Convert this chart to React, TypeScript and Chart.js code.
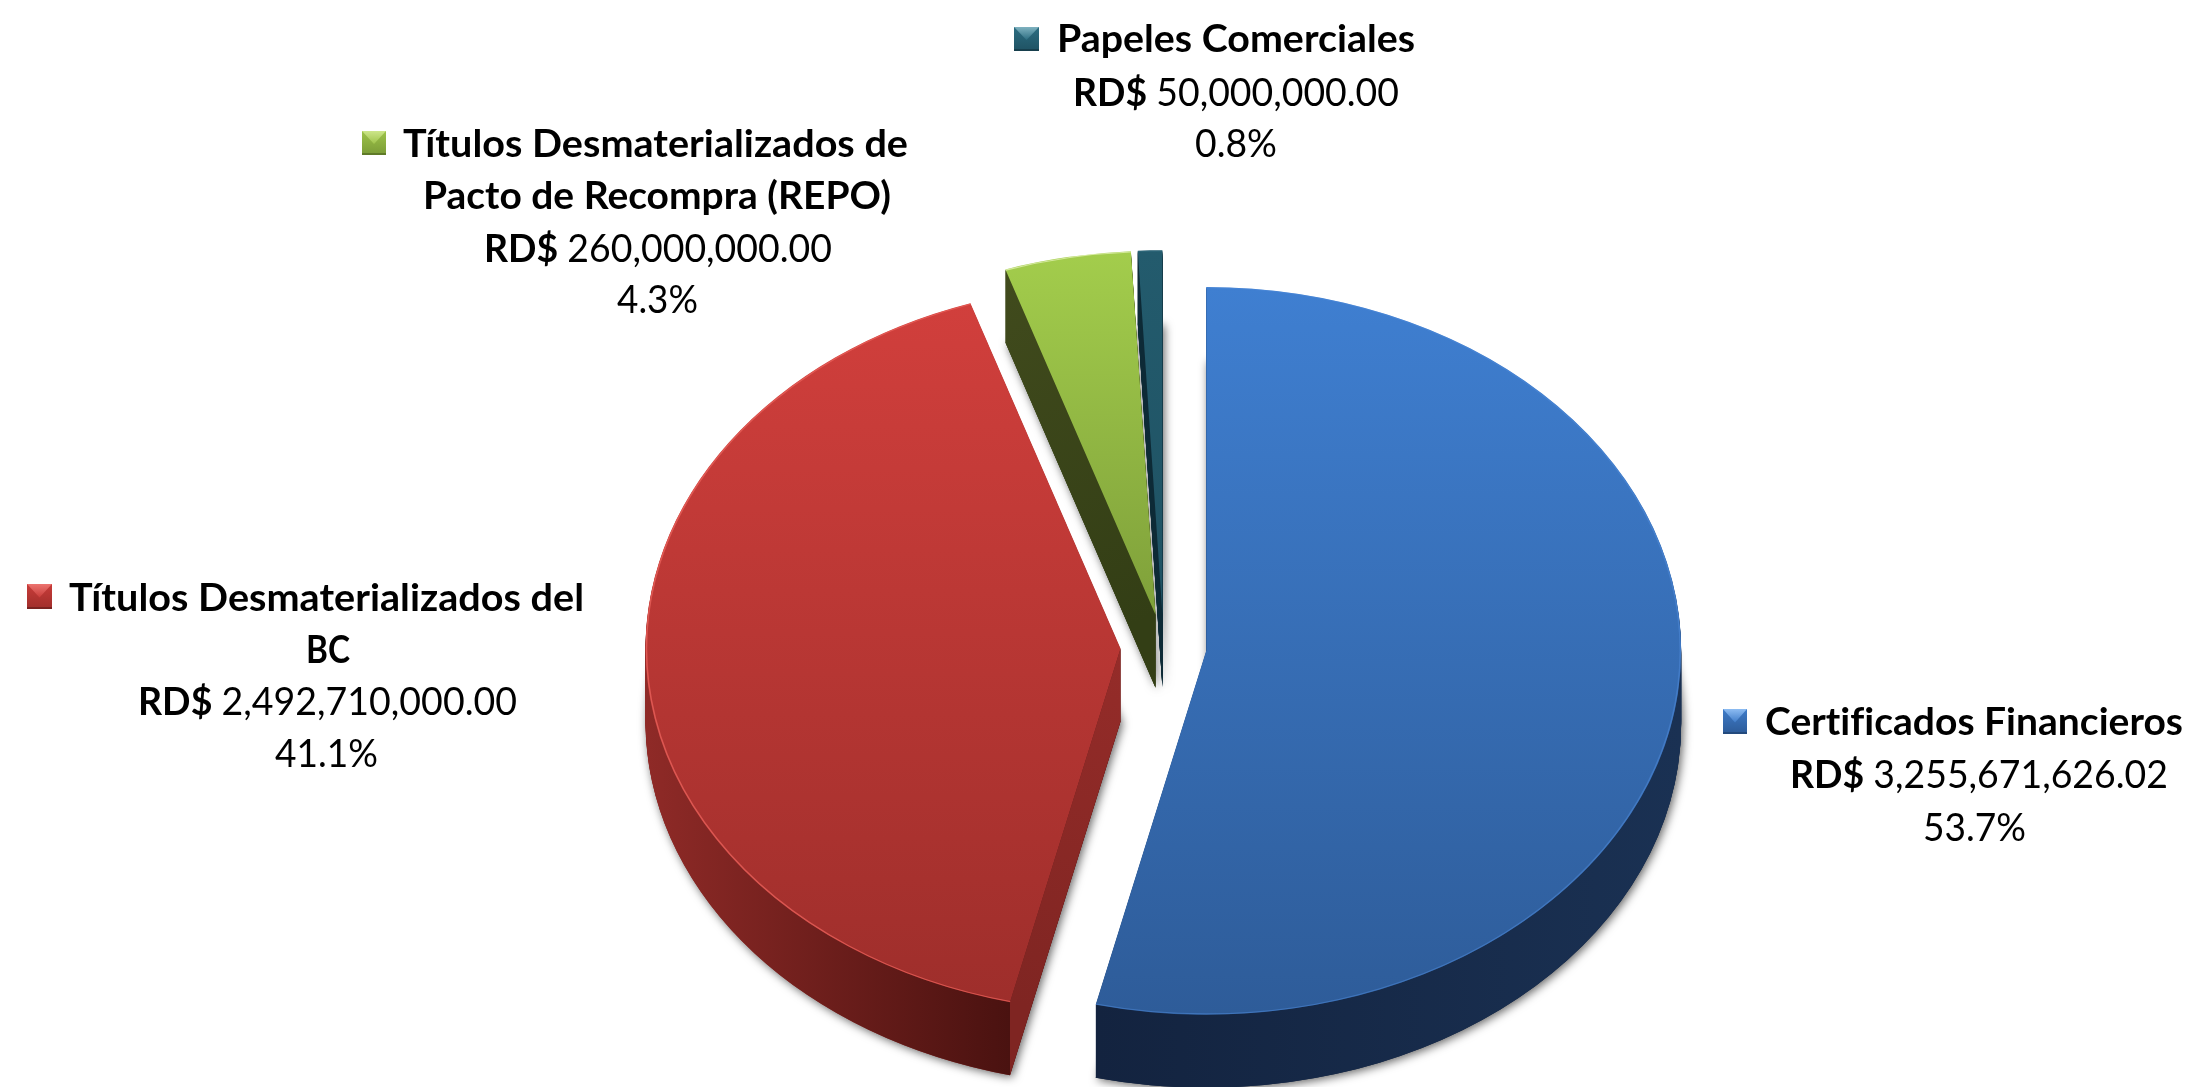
import React, { useEffect, useRef } from "react";
import { Chart, registerables } from "chart.js";

Chart.register(...registerables);

// ---- data ----
const categories = [
  "Certificados Financieros",
  "Títulos Desmaterializados del BC",
  "Títulos Desmaterializados de Pacto de Recompra (REPO)",
  "Papeles Comerciales",
];
const seriesValues = [3255671626.02, 2492710000, 260000000, 50000000];

const nameLines = [
  ["Certificados Financieros"],
  ["Títulos Desmaterializados del", "BC"],
  ["Títulos Desmaterializados de", "Pacto de Recompra (REPO)"],
  ["Papeles Comerciales"],
];

// ---- styles ----
const topColors = [
  ["#3f7fd1", "#2e5c99"],
  ["#d13f3c", "#9e2e2b"],
  ["#a3cd4c", "#7fa03a"],
  ["#235b6d", "#1f5263"],
];
const wallColors = [
  ["#13233f", "#1a3153"],
  ["#8f2a27", "#4a1210"],
  ["#414b1d", "#333e15"],
  ["#0d2a36", "#0d2a36"],
];
const cutColors = [
  ["#13233f", "#13233f"],
  ["#7f2522", "#952c29"],
  ["#414b1d", "#333e15"],
  ["#0d2a36", "#0d2a36"],
];
const rimColors = [
  "rgba(80,140,220,0.5)",
  "rgba(232,96,90,0.8)",
  "rgba(232,245,190,0.7)",
  "rgba(60,120,140,0.4)",
];
// light top, middle, dark bottom, edge
const markerColors = [
  ["#8dbcf2", "#3f7cc9", "#2c5a97", "#234a7d"],
  ["#ec7470", "#c83c39", "#a02e2b", "#7a2220"],
  ["#cde68a", "#9ec34a", "#7a9b36", "#5f7a28"],
  ["#7fb2c0", "#2c6d81", "#1f5263", "#173f4d"],
];

// ---- layout (pixels of the 2194x1087 page) ----
const RADIUS = 475;
const SQUASH = 0.766;
const DEPTH = 73;
const EXPLODE = 43;
const FONT = "Lato";
const FONT_SIZE = 38;

const markerBoxes = [
  [1723, 709, 24, 25],
  [27, 584, 25, 25],
  [362, 131, 24, 24],
  [1014, 27, 25, 24],
];
// left, right, baseline of each text line, in order: name lines, amount, percent
const lineBoxes = [
  [[1765, 2183, 735], [1790, 2168, 788], [1923, 2026, 841]],
  [[69, 584, 611], [306, 350, 663], [138, 517, 715], [275, 378, 767]],
  [[403, 908, 157], [423, 891, 209], [484, 832, 262], [617, 698, 313]],
  [[1057, 1415, 52], [1073, 1399, 106], [1195, 1277, 157]],
];

function formatAmount(v: number) {
  return v.toLocaleString("en-US", { minimumFractionDigits: 2, maximumFractionDigits: 2 });
}

function explodeOf(arc: any) {
  const mid = (arc.startAngle + arc.endAngle) / 2;
  return [Math.cos(mid) * EXPLODE, Math.sin(mid) * EXPLODE];
}

function rimExtent(arc: any) {
  const xsAll: number[] = [];
  const xsLow: number[] = [];
  const ys: number[] = [arc.y];
  for (let s = 0; s <= 90; s++) {
    const a = arc.startAngle + ((arc.endAngle - arc.startAngle) * s) / 90;
    const x = arc.x + arc.outerRadius * Math.cos(a);
    const y = arc.y + arc.outerRadius * Math.sin(a);
    xsAll.push(x);
    ys.push(y);
    if (Math.sin(a) >= 0) xsLow.push(x);
  }
  const xs = xsLow.length ? xsLow : xsAll;
  return { x0: Math.min(...xs), x1: Math.max(...xs), y0: Math.min(...ys), y1: Math.max(...ys) };
}

function withSliceSpace(ctx: any, arc: any, depth: number, fn: () => void) {
  const [dx, dy] = explodeOf(arc);
  ctx.save();
  ctx.translate(arc.x, arc.y + depth);
  ctx.scale(1, SQUASH);
  ctx.translate(dx, dy);
  ctx.translate(-arc.x, -arc.y);
  fn();
  ctx.restore();
}

function drawArcAt(ctx: any, arc: any, depth: number, fill: any) {
  const saved = arc.options;
  arc.options = { ...saved, backgroundColor: fill, borderColor: "transparent", borderWidth: 0 };
  withSliceSpace(ctx, arc, depth, () => arc.draw(ctx));
  arc.options = saved;
}

function project(arc: any, angle: number, r: number, depth: number) {
  const [dx, dy] = explodeOf(arc);
  return [arc.x + dx + r * Math.cos(angle), arc.y + depth + SQUASH * (dy + r * Math.sin(angle))];
}

function drawMarker(ctx: any, box: number[], colors: string[]) {
  const [x, y, w, h] = box;
  const cx = x + w / 2;
  const cy = y + h / 2;
  const body = ctx.createLinearGradient(0, y, 0, y + h);
  body.addColorStop(0, colors[1]);
  body.addColorStop(1, colors[2]);
  ctx.fillStyle = body;
  ctx.fillRect(x, y, w, h);
  const light = ctx.createLinearGradient(0, y, 0, cy + 1);
  light.addColorStop(0, colors[0]);
  light.addColorStop(1, colors[1]);
  ctx.beginPath();
  ctx.moveTo(x, y);
  ctx.lineTo(x + w, y);
  ctx.lineTo(cx, cy + 1);
  ctx.closePath();
  ctx.fillStyle = light;
  ctx.fill();
  ctx.fillStyle = colors[3];
  ctx.fillRect(x, y + h - 2, w, 2);
}

function drawFitted(ctx: any, parts: [string, string][], box: number[]) {
  const [left, right, baseline] = box;
  ctx.save();
  ctx.letterSpacing = "0.01px"; // keeps "fi" as two letters, as in the reference
  let total = 0;
  parts.forEach(([text, weight]) => {
    ctx.font = `${weight} ${FONT_SIZE}px ${FONT}`;
    total += ctx.measureText(text).width;
  });
  ctx.translate(left, baseline);
  ctx.scale((right - left) / total, 1);
  ctx.textAlign = "left";
  ctx.textBaseline = "alphabetic";
  ctx.fillStyle = "#000000";
  let x = 0;
  parts.forEach(([text, weight]) => {
    ctx.font = `${weight} ${FONT_SIZE}px ${FONT}`;
    ctx.fillText(text, x, 0);
    x += ctx.measureText(text).width;
  });
  ctx.restore();
}

const pie3dPlugin = {
  id: "pie3d",
  beforeDatasetDraw(chart: any) {
    const ctx = chart.ctx;
    const arcs = chart.getDatasetMeta(0).data;

    // soft shadow of the bottom face of each slice
    ctx.save();
    ctx.shadowColor = "rgba(0,0,0,0.62)";
    ctx.shadowBlur = 10;
    ctx.shadowOffsetX = 2;
    ctx.shadowOffsetY = 2;
    arcs.forEach((arc: any, i: number) => drawArcAt(ctx, arc, DEPTH, wallColors[i][0]));
    ctx.restore();

    // back to front
    [3, 2, 0, 1].forEach((i) => {
      const arc = arcs[i];
      const ext = rimExtent(arc);

      const wall = ctx.createLinearGradient(ext.x0, 0, ext.x1, 0);
      wall.addColorStop(0, wallColors[i][0]);
      wall.addColorStop(1, wallColors[i][1]);
      for (let d = DEPTH; d >= 1; d--) drawArcAt(ctx, arc, d, wall);

      // flat cut face along the starting edge of the slice
      const a0 = project(arc, arc.startAngle, 0, 0);
      const a1 = project(arc, arc.startAngle, arc.outerRadius, 0);
      const b1 = project(arc, arc.startAngle, arc.outerRadius, DEPTH);
      const b0 = project(arc, arc.startAngle, 0, DEPTH);
      const cut = ctx.createLinearGradient(a1[0], a1[1], a0[0], a0[1]);
      cut.addColorStop(0, cutColors[i][0]);
      cut.addColorStop(1, cutColors[i][1]);
      ctx.beginPath();
      ctx.moveTo(a0[0], a0[1]);
      ctx.lineTo(a1[0], a1[1]);
      ctx.lineTo(b1[0], b1[1]);
      ctx.lineTo(b0[0], b0[1]);
      ctx.closePath();
      ctx.fillStyle = cut;
      ctx.fill();

      // top face: gradient given in the arc's own (unsquashed) space
      const top = ctx.createLinearGradient(0, ext.y0, 0, ext.y1);
      top.addColorStop(0, topColors[i][0]);
      top.addColorStop(1, topColors[i][1]);
      drawArcAt(ctx, arc, 0, top);

      // thin light rim along the curved edge only
      withSliceSpace(ctx, arc, 0, () => {
        ctx.beginPath();
        ctx.arc(arc.x, arc.y, arc.outerRadius - 1, arc.startAngle, arc.endAngle);
        ctx.strokeStyle = rimColors[i];
        ctx.lineWidth = 1.5;
        ctx.stroke();
      });
    });
    return false;
  },
  afterDatasetsDraw(chart: any) {
    const ctx = chart.ctx;
    const total = seriesValues.reduce((a, b) => a + b, 0);
    categories.forEach((_c, i) => {
      drawMarker(ctx, markerBoxes[i], markerColors[i]);
      const boxes = lineBoxes[i];
      const names = nameLines[i];
      names.forEach((line, k) => drawFitted(ctx, [[line, "bold"]], boxes[k]));
      drawFitted(
        ctx,
        [["RD$ ", "bold"], [formatAmount(seriesValues[i]), "normal"]],
        boxes[names.length]
      );
      drawFitted(
        ctx,
        [[((seriesValues[i] / total) * 100).toFixed(1) + "%", "normal"]],
        boxes[names.length + 1]
      );
    });
  },
};

export default function App() {
  const ref = useRef<HTMLCanvasElement | null>(null);
  useEffect(() => {
    const chart = new Chart(ref.current as any, {
      type: "pie",
      data: {
        labels: categories,
        datasets: [{ data: seriesValues, backgroundColor: topColors.map((c) => c[0]), borderWidth: 0 }],
      },
      options: {
        animation: false,
        responsive: false,
        radius: RADIUS,
        layout: { padding: { left: 133, top: 207, right: 0, bottom: 0 } },
        plugins: { legend: { display: false }, tooltip: { enabled: false }, title: { display: false } },
        events: [],
      } as any,
      plugins: [pie3dPlugin as any],
    });
    return () => chart.destroy();
  }, []);
  return (
    <canvas
      ref={ref}
      width={2194}
      height={1087}
      style={{ position: "fixed", left: 0, top: 0, width: 2194, height: 1087 }}
    />
  );
}
